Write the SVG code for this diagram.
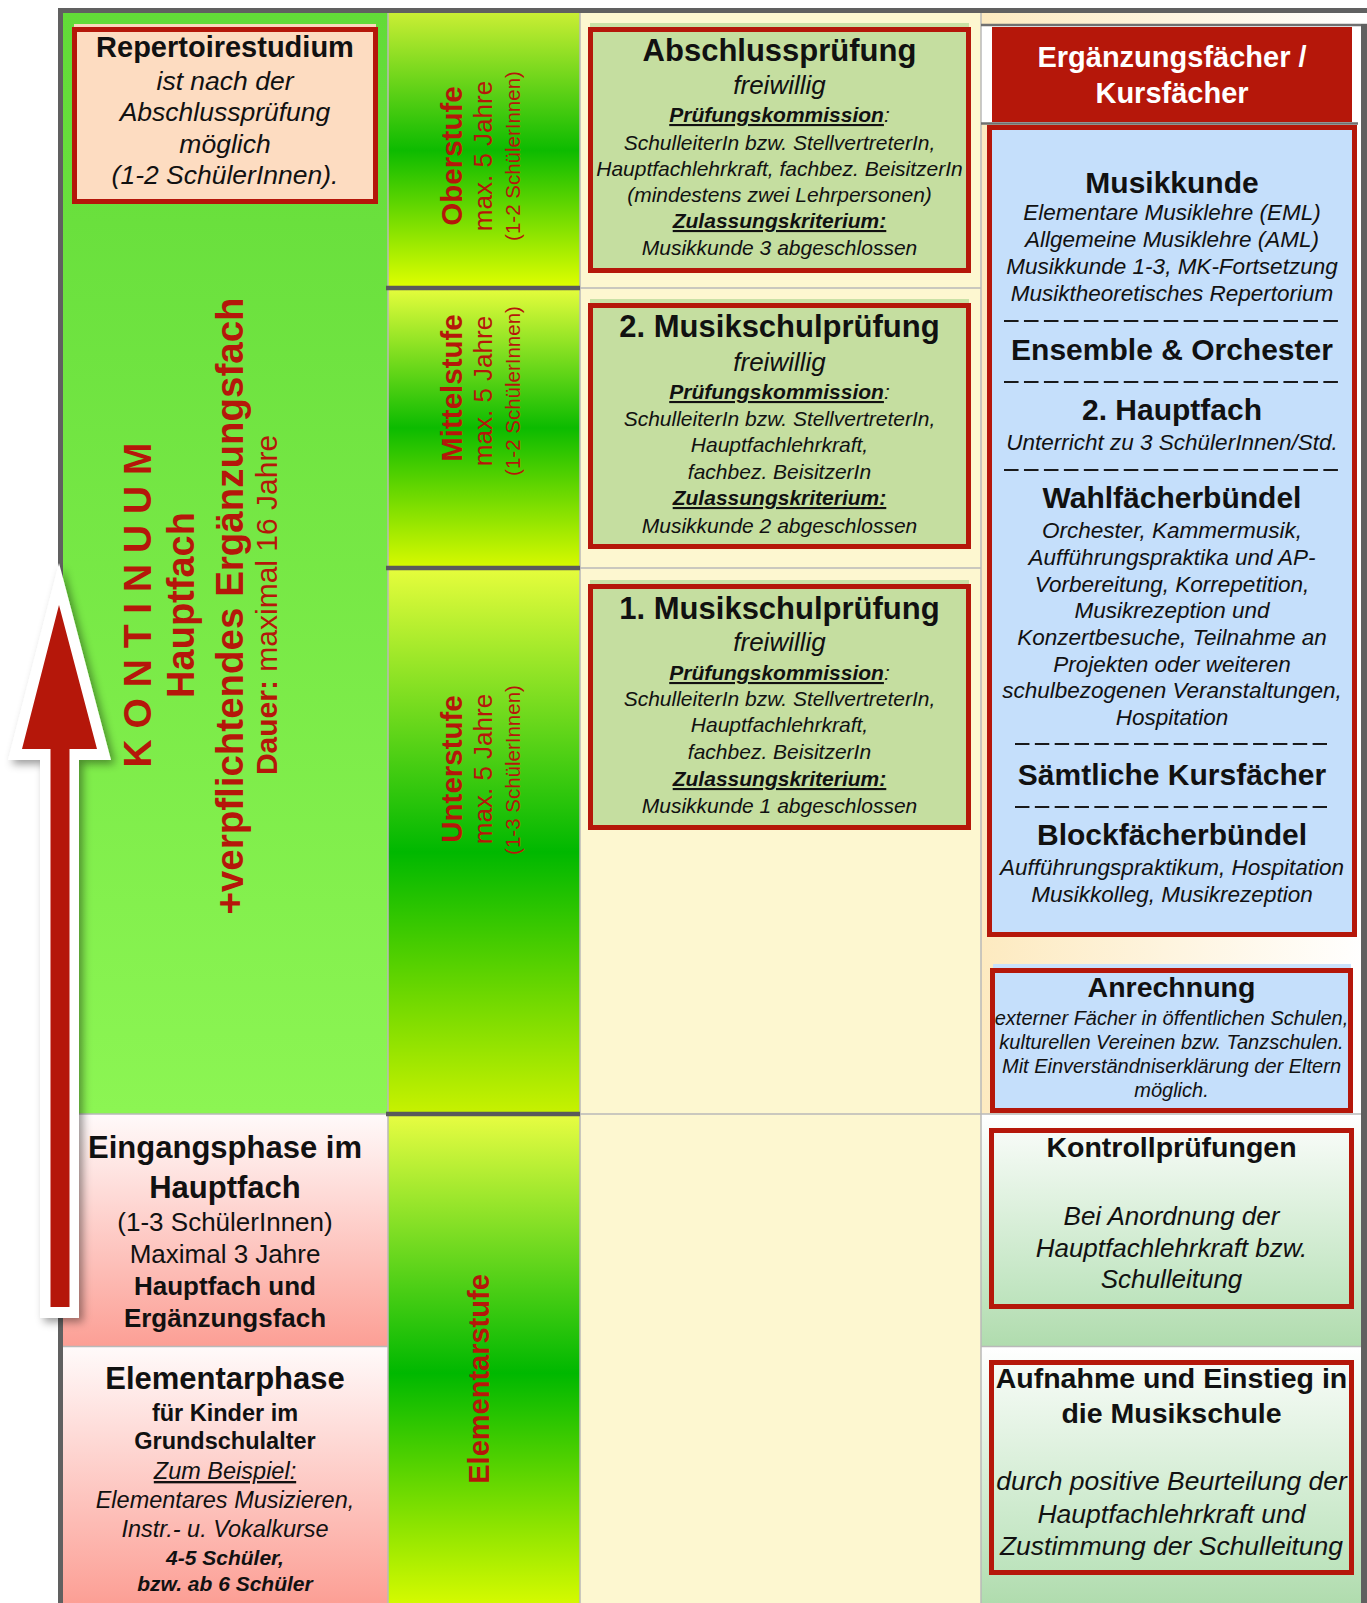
<svg xmlns="http://www.w3.org/2000/svg" width="1367" height="1603" viewBox="0 0 1367 1603">
<defs>
<style>
text{font-family:"Liberation Sans",Arial,Helvetica,sans-serif;text-anchor:middle;fill:#111}
.b{font-weight:bold}
.i{font-style:italic}
.r{fill:#b5170a}
.w{fill:#fff}
.u{text-decoration:underline}
.box{stroke:#b5170a;stroke-width:5}
.thin{stroke:#b9b9b9;stroke-width:1.5}
.thick{stroke:#5a5a5a;stroke-width:4.5}
.frame{stroke:#606060}
.dash{stroke:#1a1a1a;stroke-width:2}
.dl{stroke-dasharray:14.56 5.4}
.ds{stroke-dasharray:14.44 5.4}
</style>
<linearGradient id="gCol1" x1="0" y1="0" x2="0" y2="1"><stop offset="0" stop-color="#62db38"/><stop offset="1" stop-color="#8cf553"/></linearGradient>
<linearGradient id="gOber" x1="0" y1="0" x2="0" y2="1"><stop offset="0" stop-color="#c9ee34"/><stop offset="0.5" stop-color="#0dbb00"/><stop offset="1" stop-color="#e0ff00"/></linearGradient>
<linearGradient id="gMittel" x1="0" y1="0" x2="0" y2="1"><stop offset="0" stop-color="#e6fd3c"/><stop offset="0.5" stop-color="#0cbb00"/><stop offset="1" stop-color="#d8fa00"/></linearGradient>
<linearGradient id="gUnter" x1="0" y1="0" x2="0" y2="1"><stop offset="0" stop-color="#e6fd3c"/><stop offset="0.52" stop-color="#00b800"/><stop offset="1" stop-color="#c8f200"/></linearGradient>
<linearGradient id="gElem" x1="0" y1="0" x2="0" y2="1"><stop offset="0" stop-color="#e8fd42"/><stop offset="0.53" stop-color="#00b800"/><stop offset="1" stop-color="#d4fa00"/></linearGradient>
<linearGradient id="gPink" x1="0" y1="0" x2="0" y2="1"><stop offset="0" stop-color="#fffafa"/><stop offset="1" stop-color="#fc9f95"/></linearGradient>
<linearGradient id="gGreenBg" x1="0" y1="0" x2="0" y2="1"><stop offset="0" stop-color="#ffffff"/><stop offset="1" stop-color="#b0dcae"/></linearGradient>
<linearGradient id="gGreenBox" x1="0" y1="0" x2="0" y2="1"><stop offset="0" stop-color="#f7fbf7"/><stop offset="1" stop-color="#bce3bc"/></linearGradient>
<linearGradient id="gCream" x1="0" y1="0" x2="1" y2="0"><stop offset="0" stop-color="#fdeac0"/><stop offset="1" stop-color="#ffffff"/></linearGradient>
<filter id="shadow" x="-60%" y="-10%" width="220%" height="125%"><feDropShadow dx="4" dy="4" stdDeviation="4" flood-color="#000" flood-opacity="0.4"/></filter>
</defs>

<rect width="1367" height="1603" fill="#fff"/>

<g id="background">
  <rect x="63" y="13" width="325" height="1101" fill="url(#gCol1)"/>
  <rect x="63" y="1114" width="325" height="232" fill="url(#gPink)"/>
  <rect x="63" y="1347" width="325" height="256" fill="url(#gPink)"/>
  <rect x="388" y="13" width="192" height="275" fill="url(#gOber)"/>
  <rect x="388" y="288" width="192" height="280" fill="url(#gMittel)"/>
  <rect x="388" y="568" width="192" height="546" fill="url(#gUnter)"/>
  <rect x="388" y="1114" width="192" height="489" fill="url(#gElem)"/>
  <rect x="580" y="13" width="401" height="1590" fill="#fdf7d0"/>
  <rect x="981" y="13" width="386" height="1101" fill="url(#gCream)"/>
  <rect x="981" y="26" width="380" height="97" fill="#fff"/>
  <rect x="981" y="1114" width="380" height="232" fill="url(#gGreenBg)"/>
  <rect x="981" y="1347" width="380" height="256" fill="url(#gGreenBg)"/>
  <line class="thin" x1="388" y1="13" x2="388" y2="1603"/>
  <line class="thin" x1="580" y1="13" x2="580" y2="1603"/>
  <line class="thin" x1="981" y1="13" x2="981" y2="1603"/>
  <line class="thin" x1="580" y1="288" x2="981" y2="288"/>
  <line class="thin" x1="580" y1="568" x2="981" y2="568"/>
  <line class="thin" x1="63" y1="1114" x2="388" y2="1114"/>
  <line class="thin" x1="580" y1="1114" x2="1361" y2="1114"/>
  <line class="thin" x1="63" y1="1346.5" x2="388" y2="1346.5"/>
  <line class="thin" x1="981" y1="1346.5" x2="1361" y2="1346.5"/>
  <line x1="981" y1="25" x2="1367" y2="25" stroke="#707070" stroke-width="2.5"/>
  <line x1="981" y1="123.5" x2="1358" y2="123.5" stroke="#707070" stroke-width="2.5"/>
  <line class="thick" x1="386" y1="288" x2="580" y2="288"/>
  <line class="thick" x1="386" y1="568" x2="580" y2="568"/>
  <line class="thick" x1="386" y1="1114" x2="580" y2="1114"/>
  <line class="frame" x1="58" y1="10.5" x2="1367" y2="10.5" stroke-width="5"/>
  <line class="frame" x1="60.5" y1="8" x2="60.5" y2="1603" stroke-width="5"/>
  <line class="frame" x1="1364" y1="24" x2="1364" y2="1603" stroke-width="6"/>
</g>

<g id="node-repertoire">
  <rect x="74" y="24" width="302" height="6" fill="#fbd8bc"/>
  <rect class="box" x="74.5" y="29.5" width="301" height="172" fill="#fddcc1"/>
  <text x="225" y="57" class="b" font-size="29">Repertoirestudium</text>
  <text x="225" y="89.5" class="i" font-size="26.5">ist nach der</text>
  <text x="225" y="121" class="i" font-size="26.5">Abschlussprüfung</text>
  <text x="225" y="152.5" class="i" font-size="26.5">möglich</text>
  <text x="225" y="184" class="i" font-size="26.5">(1-2 SchülerInnen).</text>
</g>

<g id="node-kontinuum">
  <text transform="translate(151,605) rotate(-90)" class="b r" font-size="39">K O N T I N U U M</text>
  <text transform="translate(194,605) rotate(-90)" class="b r" font-size="38">Hauptfach</text>
  <text transform="translate(243,606) rotate(-90)" class="b r" font-size="38.5">+verpflichtendes Ergänzungsfach</text>
  <text transform="translate(277,605) rotate(-90)" class="r" font-size="30"><tspan font-weight="bold">Dauer:</tspan> maximal 16 Jahre</text>
</g>

<g id="node-eingangsphase">
  <text x="225" y="1158" class="b" font-size="31">Eingangsphase im</text>
  <text x="225" y="1198" class="b" font-size="31">Hauptfach</text>
  <text x="225" y="1231" font-size="26">(1-3 SchülerInnen)</text>
  <text x="225" y="1263" font-size="26">Maximal 3 Jahre</text>
  <text x="225" y="1295" class="b" font-size="26">Hauptfach und</text>
  <text x="225" y="1327" class="b" font-size="26">Ergänzungsfach</text>
</g>

<g id="node-elementarphase">
  <text x="225" y="1389" class="b" font-size="31">Elementarphase</text>
  <text x="225" y="1421" class="b" font-size="23.5">für Kinder im</text>
  <text x="225" y="1449" class="b" font-size="23.5">Grundschulalter</text>
  <text x="225" y="1479" class="i u" font-size="23.5">Zum Beispiel:</text>
  <text x="225" y="1508" class="i" font-size="23.5">Elementares Musizieren,</text>
  <text x="225" y="1537" class="i" font-size="23.5">Instr.- u. Vokalkurse</text>
  <text x="225" y="1565" class="b i" font-size="21">4-5 Schüler,</text>
  <text x="225" y="1591" class="b i" font-size="21">bzw. ab 6 Schüler</text>
</g>

<g id="node-oberstufe">
  <text transform="translate(462,156) rotate(-90)" class="b r" font-size="29.5">Oberstufe</text>
  <text transform="translate(492,156) rotate(-90)" class="r" font-size="26">max. 5 Jahre</text>
  <text transform="translate(519.5,156) rotate(-90)" class="r" font-size="20.5">(1-2 SchülerInnen)</text>
</g>
<g id="node-mittelstufe">
  <text transform="translate(462,388) rotate(-90)" class="b r" font-size="29.5">Mittelstufe</text>
  <text transform="translate(492,391) rotate(-90)" class="r" font-size="26">max. 5 Jahre</text>
  <text transform="translate(519.5,391) rotate(-90)" class="r" font-size="20.5">(1-2 SchülerInnen)</text>
</g>
<g id="node-unterstufe">
  <text transform="translate(462,769) rotate(-90)" class="b r" font-size="29.5">Unterstufe</text>
  <text transform="translate(492,769) rotate(-90)" class="r" font-size="26">max. 5 Jahre</text>
  <text transform="translate(519.5,770) rotate(-90)" class="r" font-size="20.5">(1-3 SchülerInnen)</text>
</g>
<g id="node-elementarstufe">
  <text transform="translate(489,1379) rotate(-90)" class="b r" font-size="29">Elementarstufe</text>
</g>

<g id="node-abschlusspruefung">
  <rect x="590" y="23" width="379" height="8" fill="#c9e1a6"/>
  <rect class="box" x="590.5" y="29.5" width="378" height="241" fill="#c5dea0"/>
  <text x="779.5" y="61" class="b" font-size="31">Abschlussprüfung</text>
  <text x="779.5" y="94" class="i" font-size="26">freiwillig</text>
  <text x="779.5" y="122" class="i" font-size="21"><tspan class="b u">Prüfungskommission</tspan>:</text>
  <text x="779.5" y="150" class="i" font-size="21">SchulleiterIn bzw. StellvertreterIn,</text>
  <text x="779.5" y="175.5" class="i" font-size="21">Hauptfachlehrkraft, fachbez. BeisitzerIn</text>
  <text x="779.5" y="201.5" class="i" font-size="21">(mindestens zwei Lehrpersonen)</text>
  <text x="779.5" y="228" class="i b u" font-size="21">Zulassungskriterium:</text>
  <text x="779.5" y="255" class="i" font-size="21">Musikkunde 3 abgeschlossen</text>
</g>

<g id="node-musikschulpruefung-2">
  <rect x="590" y="299" width="379" height="8" fill="#c9e1a6"/>
  <rect class="box" x="590.5" y="305.5" width="378" height="241" fill="#c5dea0"/>
  <text x="779.5" y="337" class="b" font-size="31">2. Musikschulprüfung</text>
  <text x="779.5" y="371" class="i" font-size="26">freiwillig</text>
  <text x="779.5" y="399" class="i" font-size="21"><tspan class="b u">Prüfungskommission</tspan>:</text>
  <text x="779.5" y="425.5" class="i" font-size="21">SchulleiterIn bzw. StellvertreterIn,</text>
  <text x="779.5" y="452" class="i" font-size="21">Hauptfachlehrkraft,</text>
  <text x="779.5" y="479" class="i" font-size="21">fachbez. BeisitzerIn</text>
  <text x="779.5" y="505" class="i b u" font-size="21">Zulassungskriterium:</text>
  <text x="779.5" y="532.5" class="i" font-size="21">Musikkunde 2 abgeschlossen</text>
</g>

<g id="node-musikschulpruefung-1">
  <rect x="590" y="580" width="379" height="8" fill="#c9e1a6"/>
  <rect class="box" x="590.5" y="586.5" width="378" height="241" fill="#c5dea0"/>
  <text x="779.5" y="619" class="b" font-size="31">1. Musikschulprüfung</text>
  <text x="779.5" y="651" class="i" font-size="26">freiwillig</text>
  <text x="779.5" y="680" class="i" font-size="21"><tspan class="b u">Prüfungskommission</tspan>:</text>
  <text x="779.5" y="705.5" class="i" font-size="21">SchulleiterIn bzw. StellvertreterIn,</text>
  <text x="779.5" y="732" class="i" font-size="21">Hauptfachlehrkraft,</text>
  <text x="779.5" y="759" class="i" font-size="21">fachbez. BeisitzerIn</text>
  <text x="779.5" y="786" class="i b u" font-size="21">Zulassungskriterium:</text>
  <text x="779.5" y="813" class="i" font-size="21">Musikkunde 1 abgeschlossen</text>
</g>

<g id="node-header-ergaenzungsfaecher">
  <rect x="992" y="27" width="360" height="95" fill="#b5170a"/>
  <text x="1172" y="67" class="b w" font-size="29">Ergänzungsfächer /</text>
  <text x="1172" y="103" class="b w" font-size="29">Kursfächer</text>
</g>

<g id="node-faecherliste">
  <rect class="box" x="989.5" y="127.5" width="365" height="807" fill="#c5dffb"/>
  <text x="1172" y="193" class="b" font-size="30">Musikkunde</text>
  <text x="1172" y="220" class="i" font-size="22.5">Elementare Musiklehre (EML)</text>
  <text x="1172" y="247" class="i" font-size="22.5">Allgemeine Musiklehre (AML)</text>
  <text x="1172" y="274" class="i" font-size="22.5">Musikkunde 1-3, MK-Fortsetzung</text>
  <text x="1172" y="300.5" class="i" font-size="22.5">Musiktheoretisches Repertorium</text>
  <line class="dash dl" x1="1004" y1="321" x2="1338" y2="321"/>
  <text x="1172" y="360" class="b" font-size="30">Ensemble &amp; Orchester</text>
  <line class="dash dl" x1="1004" y1="382" x2="1338" y2="382"/>
  <text x="1172" y="420" class="b" font-size="30">2. Hauptfach</text>
  <text x="1172" y="450" class="i" font-size="22.5">Unterricht zu 3 SchülerInnen/Std.</text>
  <line class="dash dl" x1="1004" y1="470" x2="1338" y2="470"/>
  <text x="1172" y="508" class="b" font-size="30">Wahlfächerbündel</text>
  <text x="1172" y="538" class="i" font-size="22.5">Orchester, Kammermusik,</text>
  <text x="1172" y="565" class="i" font-size="22.5">Aufführungspraktika und AP-</text>
  <text x="1172" y="592" class="i" font-size="22.5">Vorbereitung, Korrepetition,</text>
  <text x="1172" y="618" class="i" font-size="22.5">Musikrezeption und</text>
  <text x="1172" y="645" class="i" font-size="22.5">Konzertbesuche, Teilnahme an</text>
  <text x="1172" y="672" class="i" font-size="22.5">Projekten oder weiteren</text>
  <text x="1172" y="698" class="i" font-size="22.5">schulbezogenen Veranstaltungen,</text>
  <text x="1172" y="725" class="i" font-size="22.5">Hospitation</text>
  <line class="dash ds" x1="1015" y1="744" x2="1327" y2="744"/>
  <text x="1172" y="785" class="b" font-size="30">Sämtliche Kursfächer</text>
  <line class="dash ds" x1="1015" y1="807" x2="1327" y2="807"/>
  <text x="1172" y="845" class="b" font-size="30">Blockfächerbündel</text>
  <text x="1172" y="875" class="i" font-size="22.5">Aufführungspraktikum, Hospitation</text>
  <text x="1172" y="902" class="i" font-size="22.5">Musikkolleg, Musikrezeption</text>
</g>

<g id="node-anrechnung">
  <rect x="993" y="964" width="358" height="8" fill="#c9e1fb"/>
  <rect class="box" x="992.5" y="970.5" width="358" height="140" fill="#c5dffb"/>
  <text x="1171.5" y="997" class="b" font-size="28.5">Anrechnung</text>
  <text x="1171.5" y="1025" class="i" font-size="20">externer Fächer in öffentlichen Schulen,</text>
  <text x="1171.5" y="1048.5" class="i" font-size="20">kulturellen Vereinen bzw. Tanzschulen.</text>
  <text x="1171.5" y="1073" class="i" font-size="20">Mit Einverständniserklärung der Eltern</text>
  <text x="1171.5" y="1097" class="i" font-size="20">möglich.</text>
</g>

<g id="node-kontrollpruefungen">
  <rect class="box" x="991.5" y="1130.5" width="360" height="176" fill="url(#gGreenBox)"/>
  <text x="1171.5" y="1157" class="b" font-size="28.5">Kontrollprüfungen</text>
  <text x="1171.5" y="1225" class="i" font-size="26">Bei Anordnung der</text>
  <text x="1171.5" y="1257" class="i" font-size="26">Hauptfachlehrkraft bzw.</text>
  <text x="1171.5" y="1288" class="i" font-size="26">Schulleitung</text>
</g>

<g id="node-aufnahme">
  <rect class="box" x="991.5" y="1362.5" width="360" height="210" fill="url(#gGreenBox)"/>
  <text x="1171.5" y="1388" class="b" font-size="28.5">Aufnahme und Einstieg in</text>
  <text x="1171.5" y="1423" class="b" font-size="28.5">die Musikschule</text>
  <text x="1171.5" y="1490" class="i" font-size="26.5">durch positive Beurteilung der</text>
  <text x="1171.5" y="1523" class="i" font-size="26.5">Hauptfachlehrkraft und</text>
  <text x="1171.5" y="1555" class="i" font-size="26.5">Zustimmung der Schulleitung</text>
</g>

<g id="connectors">
  <polygon points="59,563 111,760 79,760 79,1318 40,1318 40,760 8,760" fill="#fff" filter="url(#shadow)"/>
  <polygon points="59,605 97,749 69.5,749 69.5,1307 50.5,1307 50.5,749 22,749" fill="#b5170a"/>
</g>
</svg>
